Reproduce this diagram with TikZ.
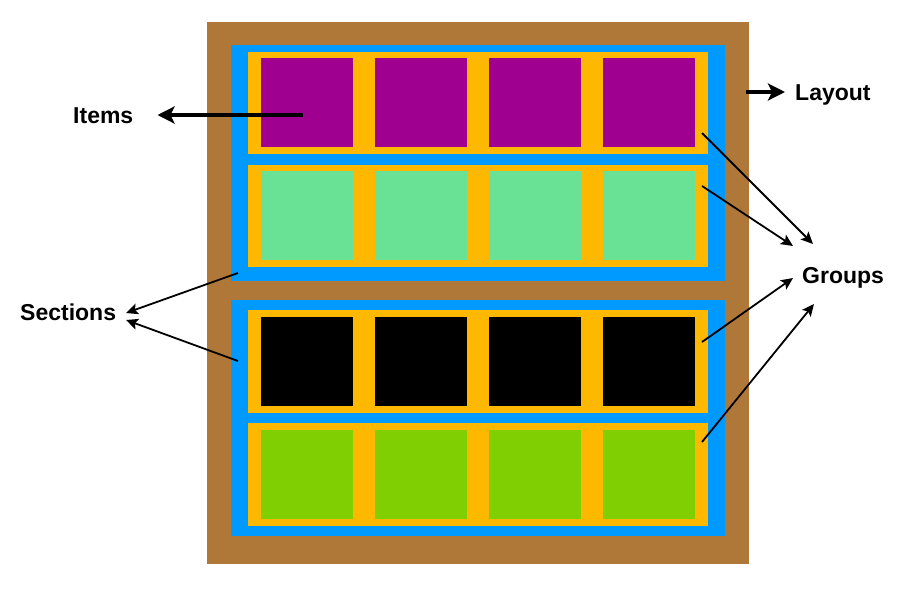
\documentclass[tikz,border=0pt]{standalone}
\usepackage{fontspec}
\setmainfont{Liberation Sans}
\usetikzlibrary{arrows.meta}
\definecolor{layoutbrown}{HTML}{B07838}
\definecolor{sectionblue}{HTML}{009AFF}
\definecolor{groupyellow}{HTML}{FFB800}
\definecolor{itempurple}{HTML}{A00090}
\definecolor{itemmint}{HTML}{69E296}
\definecolor{itemlime}{HTML}{7FCF02}

\begin{document}
\begin{tikzpicture}[x=1pt,y=-1pt,
	tag/.style={font=\fontsize{23}{27}\selectfont\bfseries, inner sep=0pt, anchor=base west},
	bigarrow/.style={line width=3.5pt, -{Stealth[length=17pt,width=17pt,inset=4pt]}},
	thinarrow/.style={line width=1.8pt, -{Stealth[length=12pt,width=11pt,inset=2.5pt]}}]
	\useasboundingbox (0,0) rectangle (911,598);
	% layout, sections, groups
	\fill[layoutbrown] (207,22) rectangle (749,564);
	\fill[sectionblue] (231,45) rectangle (725,281);
	\fill[sectionblue] (231,300) rectangle (725,536);
	\fill[groupyellow] (248,52) rectangle (708,154);
	\fill[groupyellow] (248,165) rectangle (708,267);
	\fill[groupyellow] (248,310) rectangle (708,413);
	\fill[groupyellow] (248,423) rectangle (708,526);
	% items
	\foreach \x in {261,375,489,603} {
		\fill[itempurple] (\x,58) rectangle ++(92,89);
		\fill[itemmint] (\x,171) rectangle ++(92,89);
		\fill[black] (\x,317) rectangle ++(92,89);
		\fill[itemlime] (\x,430) rectangle ++(92,89);
	}
	% labels
	\node[tag] (items) at (73,123) {Items};
	\node[tag] (layout) at (795,100) {Layout};
	\node[tag] (groups) at (802,283) {Groups};
	\node[tag] (sections) at (20,320) {Sections};
	% arrow ends
	\coordinate (itemsfrom) at (303,115);
	\coordinate (layoutfrom) at (746,92);
	\coordinate (groupafrom) at (702,133);
	\coordinate (groupbfrom) at (702,186);
	\coordinate (groupcfrom) at (702,342);
	\coordinate (groupdfrom) at (702,442);
	\coordinate (groupato) at (813,244);
	\coordinate (groupbto) at (793,246);
	\coordinate (groupcto) at (793,278);
	\coordinate (groupdto) at (814,304);
	\coordinate (sectafrom) at (238,273);
	\coordinate (sectbfrom) at (238,361);
	\coordinate (sectato) at (126,313);
	\coordinate (sectbto) at (126,320);
	\draw[bigarrow] (itemsfrom) -- ([xshift=24pt,yshift=8pt]items.base east);
	\draw[bigarrow] (layoutfrom) -- ([xshift=-10pt,yshift=8pt]layout.base west);
	\draw[thinarrow] (groupafrom) -- (groupato);
	\draw[thinarrow] (groupbfrom) -- (groupbto);
	\draw[thinarrow] (groupcfrom) -- (groupcto);
	\draw[thinarrow] (groupdfrom) -- (groupdto);
	\draw[thinarrow] (sectafrom) -- (sectato);
	\draw[thinarrow] (sectbfrom) -- (sectbto);
\end{tikzpicture}
\end{document}
